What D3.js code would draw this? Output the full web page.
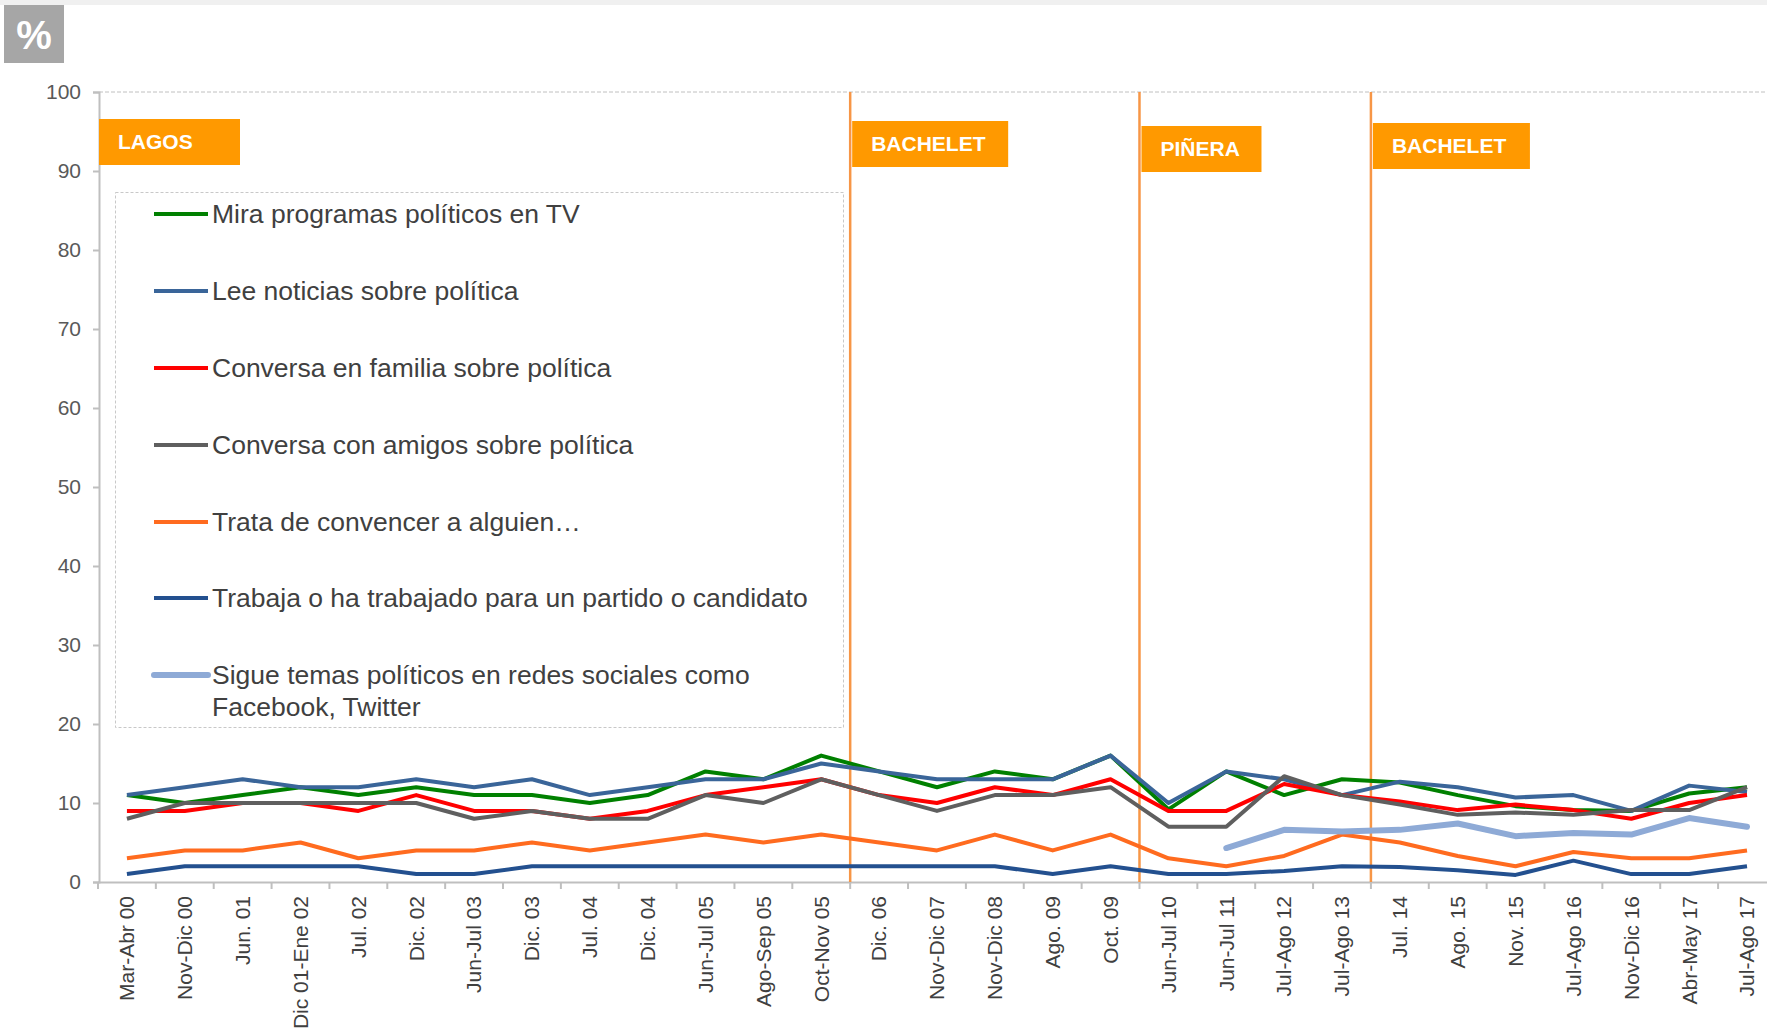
<!DOCTYPE html>
<html>
<head>
<meta charset="utf-8">
<script src="https://cdn.jsdelivr.net/npm/d3@7"></script>
<style>
  body { margin: 0; background: #fff; font-family: "Liberation Sans", Arial, sans-serif; }
  svg { display: block; }
</style>
</head>
<body>
<div id="chart"></div>
<script>
// categorías del eje X
var categories = ["Mar-Abr 00", "Nov-Dic 00", "Jun. 01", "Dic 01-Ene 02", "Jul. 02", "Dic. 02",
  "Jun-Jul 03", "Dic. 03", "Jul. 04", "Dic. 04", "Jun-Jul 05", "Ago-Sep 05", "Oct-Nov 05",
  "Dic. 06", "Nov-Dic 07", "Nov-Dic 08", "Ago. 09", "Oct. 09", "Jun-Jul 10", "Jun-Jul 11",
  "Jul-Ago 12", "Jul-Ago 13", "Jul. 14", "Ago. 15", "Nov. 15", "Jul-Ago 16", "Nov-Dic 16",
  "Abr-May 17", "Jul-Ago 17"];

// series
var miraTV = [11, 10, 11, 12, 11, 12, 11, 11, 10, 11, 14, 13, 16, 14, 12, 14, 13, 16, 9.2, 14, 11, 13, 12.6, 11, 9.6, 9.1, 9, 11.2, 12];
var leeNoticias = [11, 12, 13, 12, 12, 13, 12, 13, 11, 12, 13, 13, 15, 14, 13, 13, 13, 16, 10, 14, 13, 11, 12.7, 12, 10.7, 11, 9, 12.2, 11.4];
var conversaFamilia = [9, 9, 10, 10, 9, 11, 9, 9, 8, 9, 11, 12, 13, 11, 10, 12, 11, 13, 9, 9, 12.4, 11, 10.2, 9.1, 9.8, 9.1, 8, 10, 11];
var conversaAmigos = [8, 10, 10, 10, 10, 10, 8, 9, 8, 8, 11, 10, 13, 11, 9, 11, 11, 12, 7, 7, 13.4, 11, 9.8, 8.5, 8.8, 8.5, 9.1, 9.1, 12];
var trataConvencer = [3, 4, 4, 5, 3, 4, 4, 5, 4, 5, 6, 5, 6, 5, 4, 6, 4, 6, 3, 2, 3.3, 6, 5, 3.3, 2, 3.8, 3, 3, 4];
var trabajaPartido = [1, 2, 2, 2, 2, 1, 1, 2, 2, 2, 2, 2, 2, 2, 2, 2, 1, 2, 1, 1, 1.4, 2, 1.9, 1.5, 0.9, 2.7, 1, 1, 2];
var redesSociales = [null, null, null, null, null, null, null, null, null, null, null, null, null, null,
  null, null, null, null, null, 4.3, 6.6, 6.4, 6.6, 7.4, 5.8, 6.2, 6.0, 8.1, 7.0];

var seriesNames = ["Mira programas políticos en TV", "Lee noticias sobre política",
  "Conversa en familia sobre política", "Conversa con amigos sobre política",
  "Trata de convencer a alguien…", "Trabaja o ha trabajado para un partido o candidato",
  "Sigue temas políticos en redes sociales como Facebook, Twitter"];

// gobiernos: nombre y primera categoría del periodo
var periodNames = ["LAGOS", "BACHELET", "PIÑERA", "BACHELET"];
var periodStart = ["Mar-Abr 00", "Dic. 06", "Jun-Jul 10", "Jul. 14"];

var yTicks = [0, 10, 20, 30, 40, 50, 60, 70, 80, 90, 100];

// estilos
var colors = ["#008000", "#3a6599", "#ff0000", "#5f5f5f", "#ff6b1f", "#23508f", "#8eaad6"];
var widths = [4, 4, 4, 4, 4, 4, 6];
var periodBoxY = [119, 121, 126, 123];
var periodBoxW = [141, 156, 120, 157];

var W = 1767, H = 1030;
var x0 = 99, yTop = 92, yBottom = 882;

var svg = d3.select("#chart").append("svg")
  .attr("width", W)
  .attr("height", H);

svg.append("rect").attr("x", 0).attr("y", 0).attr("width", W).attr("height", 5).attr("fill", "#f0f0f0");

// escalas
var x = d3.scaleBand().domain(categories).range([98, 98 + 29 * 57.86]).padding(0);
var y = d3.scaleLinear().domain([0, 100]).range([yBottom, yTop]);

// caja "%"
svg.append("rect").attr("x", 4).attr("y", 5).attr("width", 60).attr("height", 58).attr("fill", "#a6a6a6");
svg.append("text").attr("x", 34).attr("y", 49).attr("text-anchor", "middle")
  .attr("fill", "#fff").style("font-size", "40px").style("font-weight", "bold").text("%");

// línea de 100
svg.append("line").attr("x1", x0).attr("x2", W).attr("y1", y(100)).attr("y2", y(100))
  .attr("stroke", "#c0c0c0").attr("stroke-dasharray", "4,2").attr("stroke-width", 1);

// eje Y
var yAxis = svg.append("g")
  .attr("transform", "translate(" + x0 + ",0)")
  .call(d3.axisLeft(y).tickValues(yTicks).tickSize(6).tickPadding(12));
yAxis.select(".domain").attr("stroke", "#bfbfbf").attr("stroke-width", 2);
yAxis.selectAll(".tick line").attr("stroke", "#bfbfbf").attr("stroke-width", 2);
yAxis.selectAll("text").attr("fill", "#595959").style("font-size", "21px")
  .style("font-family", "Liberation Sans, Arial, sans-serif");

// eje X
var xAxis = svg.append("g")
  .attr("transform", "translate(0," + yBottom + ")")
  .call(d3.axisBottom(x).tickSize(0).tickPadding(0));
xAxis.select(".domain").attr("stroke", "#bfbfbf").attr("stroke-width", 2);
xAxis.selectAll("text")
  .attr("fill", "#404040")
  .style("font-size", "21px")
  .style("font-family", "Liberation Sans, Arial, sans-serif")
  .attr("text-anchor", "end")
  .attr("transform", "rotate(-90)")
  .attr("x", -14)
  .attr("y", 0)
  .attr("dy", "0.35em");
// marcas entre categorías
svg.append("g").selectAll("line")
  .data(categories.concat(["__end"]))
  .enter().append("line")
  .attr("x1", (d, i) => x.range()[0] + i * x.bandwidth())
  .attr("x2", (d, i) => x.range()[0] + i * x.bandwidth())
  .attr("y1", yBottom).attr("y2", yBottom + 7)
  .attr("stroke", "#bfbfbf").attr("stroke-width", 2);

// líneas de periodo
periodStart.forEach(function (c, i) {
  var px = x(c);
  if (i > 0) {
    svg.append("line").attr("x1", px).attr("x2", px).attr("y1", y(100)).attr("y2", yBottom)
      .attr("stroke", "#f79646").attr("stroke-width", 2.5);
  }
  var bx = i === 0 ? x0 : px + 2;
  svg.append("rect").attr("x", bx).attr("y", periodBoxY[i])
    .attr("width", periodBoxW[i]).attr("height", 46).attr("fill", "#ff9900");
  svg.append("text").attr("x", bx + 19).attr("y", periodBoxY[i] + 30)
    .attr("fill", "#fff").style("font-size", "21px").style("font-weight", "bold")
    .text(periodNames[i]);
});

// leyenda
svg.append("rect").attr("x", 115.5).attr("y", 192.5).attr("width", 728).attr("height", 535)
  .attr("fill", "#fff").attr("stroke", "#c8c8c8").attr("stroke-dasharray", "3,2");

var allSeries = [miraTV, leeNoticias, conversaFamilia, conversaAmigos, trataConvencer, trabajaPartido, redesSociales];

var line = d3.line()
  .defined(d => d.v !== null)
  .x(d => x(d.c) + x.bandwidth() / 2)
  .y(d => y(d.v));

allSeries.forEach(function (s, i) {
  var data = s.map((v, j) => ({ c: categories[j], v: v }));
  svg.append("path")
    .datum(data)
    .attr("fill", "none")
    .attr("stroke", colors[i])
    .attr("stroke-width", widths[i])
    .attr("stroke-linejoin", "round")
    .attr("stroke-linecap", i === 6 ? "round" : "butt")
    .attr("d", line);
});

var legendY = [214, 291, 368, 445, 522, 598, 675];
var legendLines = [[seriesNames[0]], [seriesNames[1]], [seriesNames[2]], [seriesNames[3]],
  [seriesNames[4]], [seriesNames[5]], ["Sigue temas políticos en redes sociales como", "Facebook, Twitter"]];
legendLines.forEach(function (t, i) {
  svg.append("line").attr("x1", 154).attr("x2", 208).attr("y1", legendY[i]).attr("y2", legendY[i])
    .attr("stroke", colors[i]).attr("stroke-width", widths[i]).attr("stroke-linecap", i === 6 ? "round" : "butt");
  var tx = svg.append("text").attr("x", 212).attr("y", legendY[i])
    .attr("fill", "#404040").style("font-size", "26.5px");
  t.forEach(function (ln, k) {
    tx.append("tspan").attr("x", 212).attr("dy", k === 0 ? "0.35em" : "1.2em").text(ln);
  });
});
</script>
</body>
</html>
